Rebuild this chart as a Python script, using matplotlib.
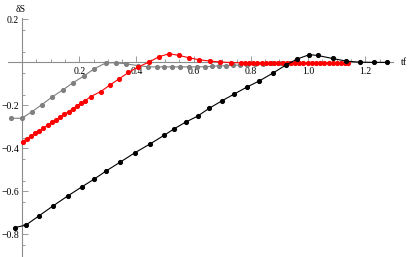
import matplotlib.pyplot as plt
from matplotlib.ticker import FixedLocator

plt.rcParams.update({
    'font.family': ['Liberation Serif', 'DejaVu Serif'],
    'font.size': 7,
})

# black series
tf_black = [-0.025, 0.013, 0.060, 0.109, 0.160, 0.209, 0.253, 0.293, 0.343, 0.395,
            0.448, 0.497, 0.533, 0.572, 0.614, 0.655, 0.700, 0.741, 0.786, 0.830,
            0.877, 0.923, 0.963, 1.005, 1.034, 1.086, 1.133, 1.180, 1.232, 1.277]
ds_black = [-0.768, -0.757, -0.713, -0.667, -0.621, -0.579, -0.542, -0.506, -0.464, -0.420,
            -0.379, -0.339, -0.308, -0.278, -0.250, -0.213, -0.178, -0.148, -0.115, -0.086,
            -0.050, -0.012, 0.016, 0.036, 0.032, 0.018, 0.006, 0.001, 0.000, 0.000]

# gray series
tf_gray = [-0.038, -0.001, 0.034, 0.070, 0.106, 0.143, 0.179, 0.217, 0.252, 0.294,
           0.328, 0.364, 0.405, 0.442, 0.471, 0.498, 0.526, 0.552, 0.584, 0.613,
           0.639, 0.663, 0.688, 0.712, 0.739, 0.762, 0.787, 0.815, 0.843, 0.874,
           0.906, 0.937]
ds_gray = [-0.260, -0.260, -0.230, -0.196, -0.160, -0.128, -0.094, -0.063, -0.030, -0.002,
           -0.002, -0.007, -0.015, -0.021, -0.021, -0.021, -0.021, -0.021, -0.021, -0.021,
           -0.020, -0.019, -0.016, -0.016, -0.014, -0.012, -0.010, -0.008, -0.006, -0.004,
           -0.003, -0.002]

# red series
tf_red = [0.002, 0.017, 0.031, 0.046, 0.061, 0.075, 0.090, 0.104, 0.119, 0.133,
          0.148, 0.163, 0.177, 0.192, 0.206, 0.221, 0.240, 0.275, 0.308, 0.339,
          0.372, 0.405, 0.445, 0.480, 0.515, 0.550, 0.585, 0.620, 0.657, 0.692,
          0.730, 0.765, 0.780, 0.794, 0.809, 0.823, 0.838, 0.853, 0.867, 0.882,
          0.896, 0.911, 0.926, 0.940, 0.955, 0.969, 0.984, 0.999, 1.013, 1.028,
          1.042, 1.057, 1.072, 1.086, 1.101, 1.115, 1.130, 1.139]
ds_red = [-0.368, -0.355, -0.343, -0.330, -0.317, -0.305, -0.292, -0.279, -0.267, -0.254,
          -0.241, -0.229, -0.216, -0.203, -0.191, -0.178, -0.159, -0.136, -0.105, -0.077,
          -0.047, -0.022, 0.002, 0.027, 0.040, 0.032, 0.021, 0.012, 0.006, 0.002,
          -0.001, -0.002, -0.003, -0.003, -0.003, -0.003, -0.003, -0.003, -0.003, -0.003,
          -0.003, -0.003, -0.003, -0.003, -0.003, -0.003, -0.003, -0.003, -0.003, -0.003,
          -0.003, -0.003, -0.003, -0.003, -0.003, -0.003, -0.003, -0.002]

x_ticks = [0.2, 0.4, 0.6, 0.8, 1.0, 1.2]
x_labels = ['0.2', '0.4', '0.6', '0.8', '1.0', '1.2']
y_ticks = [-0.8, -0.6, -0.4, -0.2, 0.2]
y_labels = ['\u22120.8', '\u22120.6', '\u22120.4', '\u22120.2', '0.2']

fig = plt.figure(figsize=(4.09, 2.57), dpi=100)
ax = fig.add_axes([0, 0, 1, 1])

ax.plot(tf_gray, ds_gray, 'o-', color='#808080', ms=2.7, lw=0.8)
ax.plot(tf_red, ds_red, 'o-', color='#ff0000', ms=2.7, lw=0.8)
ax.plot(tf_black, ds_black, 'o-', color='black', ms=2.7, lw=0.8)

ax.set_xlim(-0.077, 1.353)
ax.set_ylim(-0.905, 0.29)

# axes through the origin, Mathematica style
axis_col = '#8c8c8c'
for s in ['top', 'right']:
    ax.spines[s].set_visible(False)
ax.spines['left'].set_position(('data', 0))
ax.spines['bottom'].set_position(('data', 0))
ax.spines['left'].set_bounds(-0.905, 0.207)
ax.spines['bottom'].set_bounds(-0.048, 1.297)
for s in ['left', 'bottom']:
    ax.spines[s].set_color(axis_col)
    ax.spines[s].set_linewidth(0.8)
    ax.spines[s].set_zorder(0)

ax.xaxis.set_major_locator(FixedLocator(x_ticks))
ax.xaxis.set_minor_locator(FixedLocator([0.05 * i for i in range(0, 26) if i % 4 != 0]))
ax.yaxis.set_major_locator(FixedLocator(y_ticks))
ax.yaxis.set_minor_locator(FixedLocator(
    [-0.85 + 0.05 * i for i in range(0, 22) if (i + 1) % 4 != 0 and abs(-0.85 + 0.05 * i) > 1e-6]))
ax.set_xticklabels(x_labels)
ax.set_yticklabels(y_labels)
ax.tick_params(which='both', direction='in', color=axis_col, width=0.6)
ax.tick_params(which='major', length=4, labelsize=7)
ax.tick_params(axis='x', which='major', pad=3.5)
ax.tick_params(axis='y', which='major', pad=2)
ax.tick_params(which='minor', length=2)

ax.text(1.325, 0.0, 'tf', ha='left', va='center', fontsize=7)
ax.text(-0.005, 0.225, '\u03b4S', ha='center', va='bottom', fontsize=7)

fig.savefig('out.png', dpi=100)
plt.close(fig)
